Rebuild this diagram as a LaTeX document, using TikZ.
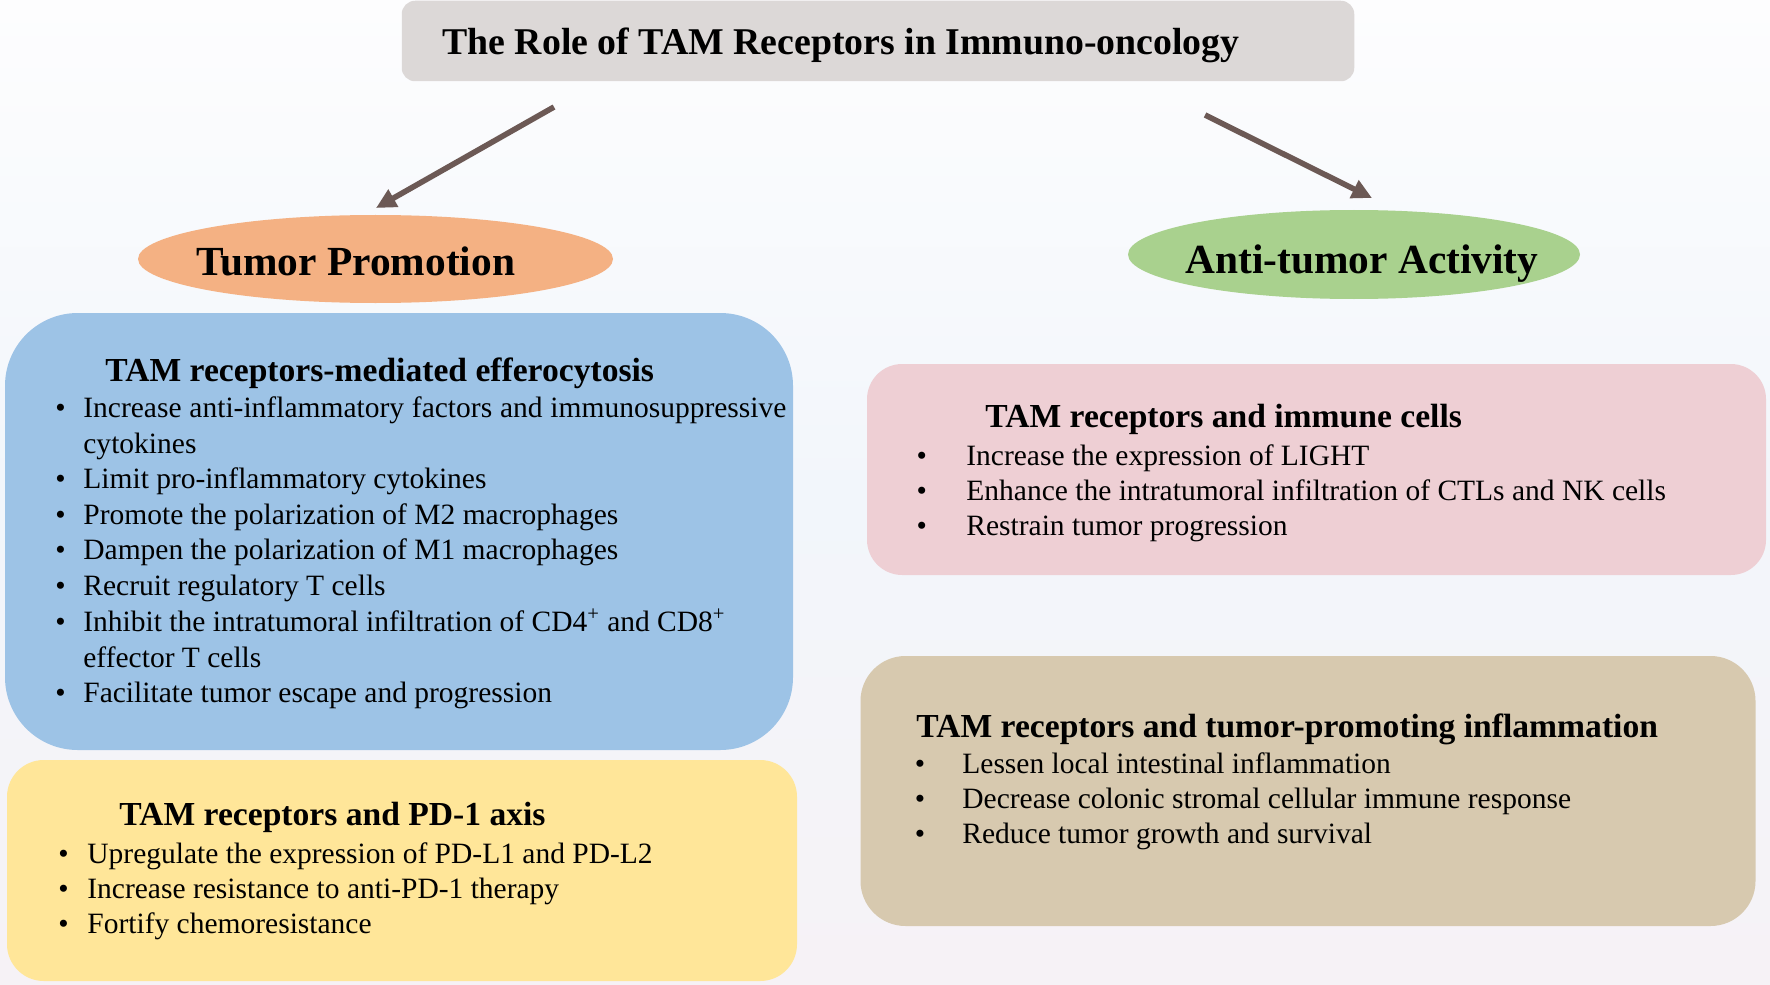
\documentclass[tikz,border=0pt]{standalone}
\usepackage{fontspec}
\setmainfont{Liberation Serif}
\usetikzlibrary{shapes.geometric,arrows.meta}
\definecolor{bgTop}{HTML}{FDFDFE}
\definecolor{bgMid}{HTML}{F2F6FB}
\definecolor{bgBot}{HTML}{F6F2F6}
\definecolor{titleF}{HTML}{DCD8D7}
\definecolor{arrowC}{RGB}{108,89,85}
\definecolor{orangeF}{HTML}{F4B183}
\definecolor{greenF}{HTML}{A9D18E}
\definecolor{blueF}{HTML}{9DC3E6}
\definecolor{yellowF}{HTML}{FFE699}
\definecolor{pinkF}{HTML}{EECFD4}
\definecolor{tanF}{HTML}{D7C9AF}
\newcommand{\bul}[1]{\llap{\textbullet\hspace{#1}}}
\tikzset{
  rbox/.style={rectangle, draw=none, inner sep=0pt, outer sep=0pt},
  ell/.style={ellipse, draw=none, inner sep=0pt, outer sep=0pt},
  body/.style={anchor=base west, inner sep=0pt, font=\fontsize{14.75}{17.8}\selectfont},
  head/.style={anchor=base west, inner sep=0pt, font=\bfseries\fontsize{16.8}{20}\selectfont},
  big/.style={anchor=base west, inner sep=0pt, font=\bfseries\fontsize{20.7}{24}\selectfont},
  arr/.style={line width=2.8pt, draw=arrowC, -{Triangle[length=10pt,width=9.5pt]}}
}
\begin{document}
\begin{tikzpicture}[x=0.5pt,y=-0.5pt]
\useasboundingbox (0,0) rectangle (1770,984);
\shade[top color=bgTop, bottom color=bgMid] (0,0) rectangle (1770,492);
\shade[top color=bgMid, bottom color=bgBot] (0,492) rectangle (1770,984);

% title
\node[rbox, fill=titleF, minimum width=476.25pt, minimum height=40.25pt, rounded corners=6.7pt] (title) at (878,41) {};
\node[anchor=base west, inner sep=0pt, font=\bfseries\fontsize{18.9}{22}\selectfont] (titletext) at (442,55) {The Role of TAM Receptors in Immuno-oncology};

% ellipses
\node[ell, fill=orangeF, minimum width=237.5pt, minimum height=44pt] (promo) at (375.5,259) {};
\node[big] (promotext) at (196,275) {Tumor Promotion};
\node[ell, fill=greenF, minimum width=226pt, minimum height=44.5pt] (anti) at (1354,254.5) {};
\node[big] (antitext) at (1185,273) {Anti-tumor Activity};

% arrows
\coordinate (s1) at (554,107);
\coordinate (e1) at (376,208);
\coordinate (s2) at (1205,115);
\coordinate (e2) at (1372,198);
\draw[arr] (s1) -- (e1);
\draw[arr] (s2) -- (e2);

% boxes
\node[rbox, fill=blueF, minimum width=394pt, minimum height=218.5pt, rounded corners=36.4pt] (bluebox) at (399,531.5) {};
\node[rbox, fill=yellowF, minimum width=395pt, minimum height=110.5pt, rounded corners=18.4pt] (yellowbox) at (402,870.5) {};
\node[rbox, fill=pinkF, minimum width=449.5pt, minimum height=105.5pt, rounded corners=17.6pt] (pinkbox) at (1316.5,469.5) {};
\node[rbox, fill=tanF, minimum width=447.5pt, minimum height=135pt, rounded corners=22.5pt] (tanbox) at (1308,791) {};

% blue box text
\node[head] (bh) at (105,381) {TAM receptors-mediated efferocytosis};
\node[body] (b1) at (83,417) {\bul{8.9pt}\makebox[351.5pt][s]{Increase anti-inflammatory factors and immunosuppressive}};
\node[body] (b2) at (83,453) {cytokines};
\node[body] (b3) at (83,488) {\bul{8.9pt}Limit pro-inflammatory cytokines};
\node[body] (b4) at (83,524) {\bul{8.9pt}Promote the polarization of M2 macrophages};
\node[body] (b5) at (83,559) {\bul{8.9pt}Dampen the polarization of M1 macrophages};
\node[body] (b6) at (83,595) {\bul{8.9pt}Recruit regulatory T cells};
\node[body] (b7) at (83,631) {\bul{8.9pt}Inhibit the intratumoral infiltration of CD4\textsuperscript{+} and CD8\textsuperscript{+}};
\node[body] (b8) at (83,667) {effector T cells};
\node[body] (b9) at (83,702) {\bul{8.9pt}Facilitate tumor escape and progression};

% yellow box text
\node[head] (yh) at (119,825) {TAM receptors and PD-1 axis};
\node[body] (y1) at (87,863) {\bul{9.3pt}Upregulate the expression of PD-L1 and PD-L2};
\node[body] (y2) at (87,898) {\bul{9.3pt}Increase resistance to anti-PD-1 therapy};
\node[body] (y3) at (87,933) {\bul{9.3pt}Fortify chemoresistance};

% pink box text
\node[head] (ph) at (985,427) {TAM receptors and immune cells};
\node[body] (p1) at (966,465) {\bul{19.7pt}Increase the expression of LIGHT};
\node[body] (p2) at (966,500) {\bul{19.7pt}Enhance the intratumoral infiltration of CTLs and NK cells};
\node[body] (p3) at (966,535) {\bul{19.7pt}Restrain tumor progression};

% tan box text
\node[head] (th) at (916,737) {TAM receptors and tumor-promoting inflammation};
\node[body] (q1) at (962,773) {\bul{18.65pt}Lessen local intestinal inflammation};
\node[body] (q2) at (962,808) {\bul{18.65pt}Decrease colonic stromal cellular immune response};
\node[body] (q3) at (962,843) {\bul{18.65pt}Reduce tumor growth and survival};
\end{tikzpicture}
\end{document}
